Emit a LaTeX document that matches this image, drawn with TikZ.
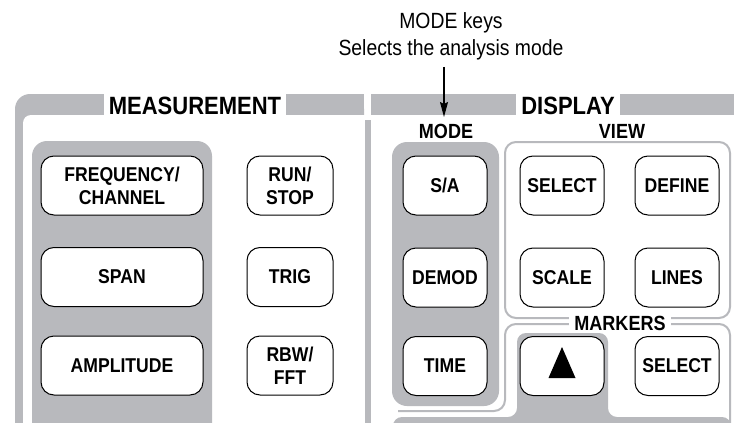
\documentclass[tikz,border=0pt]{standalone}
\usepackage{fontspec}
\newfontfamily\panelfont[FakeStretch=0.88]{Liberation Sans}
\usetikzlibrary{arrows.meta,positioning}
\definecolor{panelgray}{RGB}{184,185,189}

\begin{document}
\begin{tikzpicture}[
    x=1pt, y=-1pt,
    >={Stealth[length=15pt,width=8pt,inset=2pt]},
    keynode/.style={draw,fill=white,line width=1pt,rounded corners=13pt,
        minimum width=84pt,minimum height=59pt,inner sep=0pt,align=center,
        font=\panelfont\bfseries\fontsize{20}{23}\selectfont},
    widekey/.style={keynode,minimum width=162pt},
    headnode/.style={inner sep=0pt,font=\panelfont\bfseries\fontsize{20.5}{24}\selectfont},
    titlenode/.style={fill=white,anchor=south,text height=21pt,text depth=0pt,
        inner xsep=5pt,inner ysep=0pt,font=\panelfont\bfseries\fontsize{25}{28}\selectfont},
    grpbox/.style={fill=panelgray,rounded corners=15pt},
    frameline/.style={draw=panelgray,line width=2pt,rounded corners=11pt},
    notenode/.style={anchor=base,inner sep=3pt,font=\panelfont\fontsize{22}{27}\selectfont},
]

\clip (0,0) rectangle (734,423);
\fill[white] (0,0) rectangle (734,423);

% =====================================================
% Panel frames
% =====================================================

\fill[panelgray, rounded corners=15pt] (15,94) rectangle (364,470);
\fill[panelgray] (300,94) rectangle (364,115);
\fill[white, rounded corners=8pt] (23,115) rectangle (380,470);
\fill[panelgray] (371,94) rectangle (734,115);
\fill[panelgray] (365,120) rectangle (371,423);

\node[titlenode] (meas) at (195,115) {MEASUREMENT};
\node[titlenode] (disp) at (568,115) {DISPLAY};

% groups
\fill[grpbox] (32,141) rectangle (212,470);
\fill[grpbox] (392,142) rectangle (499,406);
\draw[frameline] (505,142) rectangle (730,318);
\draw[frameline] (398,411) -- (505,411) -- (505,324) -- (730,324) -- (730,440);
\fill[panelgray, rounded corners=9pt]
    (393,440) -- (393,417) -- (517,417) -- (517,333) -- (608,333)
    -- (608,417) -- (731,417) -- (731,440) -- cycle;

\node[headnode] (mode) at (446,131) {MODE};
\node[headnode] (view) at (622,131) {VIEW};
\node[headnode, fill=white, inner xsep=5pt] (markers) at (620,323) {MARKERS};

% =====================================================
% Keys
% =====================================================

\node[widekey] (freq) at (122,185.5) {FREQUENCY/\\CHANNEL};
\node[widekey] (span) at (122,277) {SPAN};
\node[widekey] (ampl) at (122,365.5) {AMPLITUDE};

\node[keynode, minimum width=86pt] (runstop) at (290,185.5) {RUN/\\STOP};
\node[keynode, minimum width=86pt] (trig) at (290,277) {TRIG};
\node[keynode, minimum width=86pt] (rbw) at (290,365.5) {RBW/\\FFT};

\node[keynode] (sa) at (445,185.5) {S/A};
\node[keynode] (demod) at (445,277.5) {DEMOD};
\node[keynode] (time) at (445,366) {TIME};

\node[keynode] (vsel) at (562,185.5) {SELECT};
\node[keynode] (define) at (677,185.5) {DEFINE};
\node[keynode] (scale) at (562,277.5) {SCALE};
\node[keynode] (lines) at (677,277.5) {LINES};

\node[keynode] (mkup) at (562,366) {};
\node[keynode] (msel) at (677,366) {SELECT};

\fill ([shift={(-13.5,12)}]mkup.center)
    -- ([shift={(13.5,12)}]mkup.center)
    -- ([shift={(0,-19)}]mkup.center) -- cycle;

% =====================================================
% Callout
% =====================================================

\node[notenode] (keyslabel) at (451,28) {MODE keys};
\node[notenode] (keysnote) at (451,55) {Selects the analysis mode};

\coordinate (modetip) at (444,117);
\draw[->, line width=1.3pt, shorten <=4pt]
    (keysnote.south -| modetip)
    -- (modetip);

\end{tikzpicture}
\end{document}
